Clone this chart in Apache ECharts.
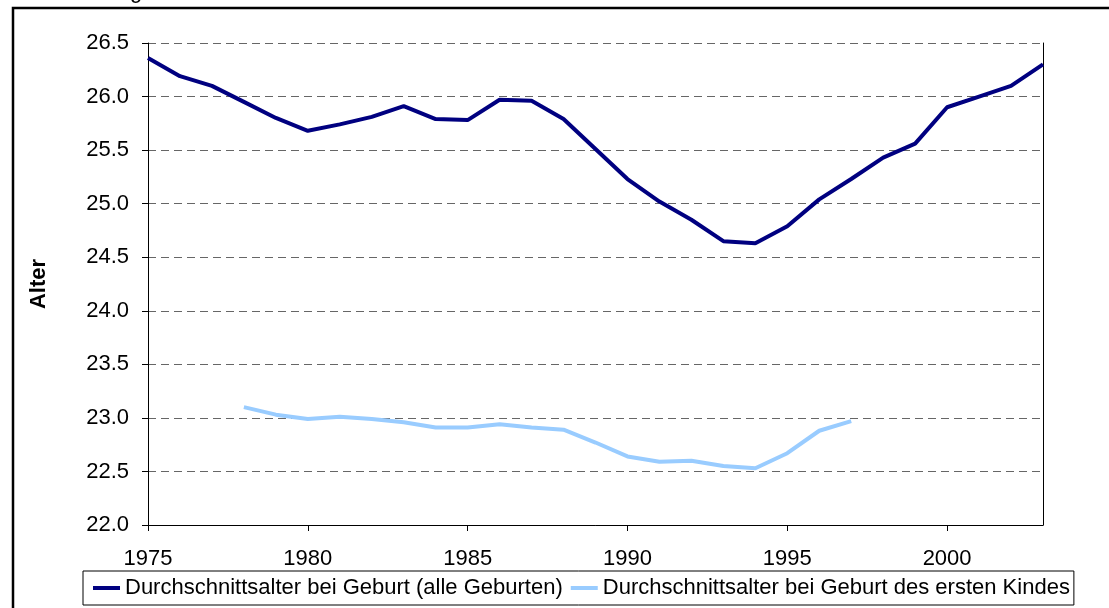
<!DOCTYPE html>
<html><head><meta charset="utf-8">
<script src="https://cdn.jsdelivr.net/npm/echarts@6/dist/echarts.min.js"></script>
<style>html,body{margin:0;padding:0;background:#fff}#c{width:1109px;height:608px}</style>
</head><body><div id="c"></div>
<script>
const years = [1975,1976,1977,1978,1979,1980,1981,1982,1983,1984,1985,1986,1987,1988,1989,1990,1991,1992,1993,1994,1995,1996,1997,1998,1999,2000,2001,2002,2003];
const allBirths = [26.36,26.19,26.10,25.95,25.80,25.68,25.74,25.81,25.91,25.79,25.78,25.97,25.96,25.79,25.51,25.23,25.02,24.85,24.65,24.63,24.79,25.04,25.23,25.43,25.56,25.90,26.00,26.10,26.30];
const firstChildYears = [1978,1979,1980,1981,1982,1983,1984,1985,1986,1987,1988,1989,1990,1991,1992,1993,1994,1995,1996,1997];
const firstChild = [23.10,23.03,22.99,23.01,22.99,22.96,22.91,22.91,22.94,22.91,22.89,22.77,22.64,22.59,22.60,22.55,22.53,22.67,22.88,22.97];
const xTickYears = [1975,1980,1985,1990,1995,2000];
const seriesNames = ['Durchschnittsalter bei Geburt (alle Geburten)','Durchschnittsalter bei Geburt des ersten Kindes'];
const yTitle = 'Alter';

const FONT = 'Arial, "Liberation Sans", sans-serif';
const FS = 22;
const chart = echarts.init(document.getElementById('c'), null, {renderer:'canvas'});
chart.setOption({
  animation:false,
  backgroundColor:'#fff',
  textStyle:{fontFamily:FONT,color:'#000'},
  grid:{left:148,right:66,top:43,bottom:83,containLabel:false},
  xAxis:{
    type:'value',min:1975,max:2003,interval:5,
    axisLine:{show:true,onZero:false,lineStyle:{color:'#000',width:1}},
    axisTick:{show:true,length:6,lineStyle:{color:'#000'},customValues:xTickYears},
    axisLabel:{fontSize:FS,color:'#000',fontFamily:FONT,margin:23,customValues:xTickYears,formatter:v=>String(v)},
    splitLine:{show:false}
  },
  yAxis:[{
    type:'value',min:22,max:26.5,interval:0.5,
    axisLine:{show:true,onZero:false,lineStyle:{color:'#000',width:1}},
    axisTick:{show:true,length:6,lineStyle:{color:'#000'}},
    axisLabel:{fontSize:FS,color:'#000',fontFamily:FONT,margin:19,formatter:v=>v.toFixed(1)},
    splitLine:{show:true,lineStyle:{color:'#666',width:1,type:[8,5]}}
  },{
    type:'value',min:22,max:26.5,interval:0.5,position:'right',
    axisLine:{show:true,onZero:false,lineStyle:{color:'#000',width:1}},
    axisTick:{show:false},axisLabel:{show:false},splitLine:{show:false}
  }],
  legend:{
    left:83,top:571,orient:'horizontal',
    data:seriesNames,
    icon:'rect',itemWidth:27,itemHeight:4,itemGap:8,
    borderColor:'#000',borderWidth:1,padding:[6,4,6,10],
    textStyle:{fontSize:FS,color:'#000',fontFamily:FONT},
    selectedMode:false
  },
  graphic:[
    {type:'rect',shape:{x:13,y:8,width:1120,height:640},style:{fill:'none',stroke:'#000',lineWidth:2.5},silent:true,z:-1},
    {type:'text',x:39,y:284,rotation:Math.PI/2,style:{text:yTitle,font:'bold '+FS+'px '+FONT,fill:'#000',align:'center',verticalAlign:'middle'}},
    {type:'text',x:130,y:3,style:{text:'g',font:FS+'px '+FONT,fill:'#000',align:'left',verticalAlign:'bottom'}}
  ],
  series:[
    {name:seriesNames[0],type:'line',data:years.map((y,i)=>[y,allBirths[i]]),
     showSymbol:false,symbol:'none',lineStyle:{color:'#000080',width:4},itemStyle:{color:'#000080'},z:3},
    {name:seriesNames[1],type:'line',data:firstChildYears.map((y,i)=>[y,firstChild[i]]),
     showSymbol:false,symbol:'none',lineStyle:{color:'#99CCFF',width:4},itemStyle:{color:'#99CCFF'},z:2}
  ]
});
</script></body></html>
